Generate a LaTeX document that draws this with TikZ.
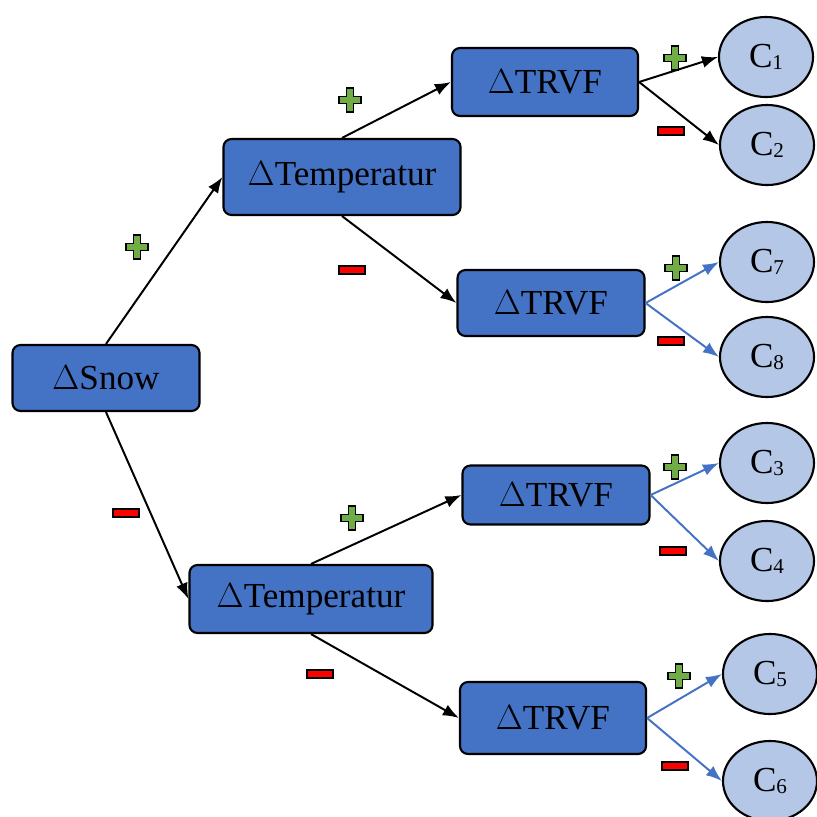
\documentclass[tikz,border=0pt]{standalone}
\usepackage{fontspec}
\setmainfont{Liberation Serif}
\usetikzlibrary{arrows.meta,shapes.geometric}
\definecolor{boxblue}{HTML}{4472C4}
\definecolor{lightblue}{HTML}{B4C7E7}
\definecolor{plusgreen}{HTML}{70AD47}
\definecolor{minusred}{HTML}{FF0000}

\begin{document}
\begin{tikzpicture}
  [ x=0.025cm, y=-0.025cm,
    my box/.style={draw, line width=1.5pt, fill=boxblue, rounded corners=0.2cm,
      font=\fontsize{25}{28}\selectfont, inner sep=0pt},
    my leaf/.style={ellipse, draw, line width=1.5pt, fill=lightblue,
      minimum width=2.35cm, minimum height=2.0cm, inner sep=0pt,
      font=\fontsize{25}{28}\selectfont},
    my arrow/.style={-{Latex[length=4mm,width=3mm]}, line width=1.4pt},
    my blue arrow/.style={my arrow, boxblue},
    my plus/.pic={\draw[fill=plusgreen, line width=1.2pt]
      (-3.5,-12) -- (3.5,-12) -- (3.5,-3.5) -- (11,-3.5) -- (11,3.5)
      -- (3.5,3.5) -- (3.5,12) -- (-3.5,12) -- (-3.5,3.5) -- (-11,3.5)
      -- (-11,-3.5) -- (-3.5,-3.5) -- cycle;},
    my minus/.pic={\draw[fill=minusred, line width=1.2pt]
      (-13,-4) rectangle (13,4);}, ]

  \useasboundingbox (0,0) rectangle (817,817);

  \node[my box, minimum width=4.675cm, minimum height=1.65cm] (snow) at (106,378) {$\Delta$Snow};
  \node[my box, minimum width=5.925cm, minimum height=1.9cm] (tempA) at (342,177) {$\Delta$Temperatur};
  \node[my box, minimum width=6.075cm, minimum height=1.7cm] (tempB) at (311,599) {$\Delta$Temperatur};

  \node[my box, minimum width=4.65cm, minimum height=1.7cm] (trvfA) at (545,82) {$\Delta$TRVF};
  \node[my box, minimum width=4.675cm, minimum height=1.65cm] (trvfB) at (551,303) {$\Delta$TRVF};
  \node[my box, minimum width=4.675cm, minimum height=1.475cm] (trvfC) at (556,495) {$\Delta$TRVF};
  \node[my box, minimum width=4.65cm, minimum height=1.8cm] (trvfD) at (553,718) {$\Delta$TRVF};

  \node[my leaf] (c1) at (766,57) {C\raisebox{-1pt}{\fontsize{15}{15}\selectfont 1}};
  \node[my leaf] (c2) at (767,145) {C\raisebox{-1pt}{\fontsize{15}{15}\selectfont 2}};
  \node[my leaf] (c7) at (767,262) {C\raisebox{-1pt}{\fontsize{15}{15}\selectfont 7}};
  \node[my leaf] (c8) at (767,357) {C\raisebox{-1pt}{\fontsize{15}{15}\selectfont 8}};
  \node[my leaf] (c3) at (767,463) {C\raisebox{-1pt}{\fontsize{15}{15}\selectfont 3}};
  \node[my leaf] (c4) at (767,561) {C\raisebox{-1pt}{\fontsize{15}{15}\selectfont 4}};
  \node[my leaf] (c5) at (770,674) {C\raisebox{-1pt}{\fontsize{15}{15}\selectfont 5}};
  \node[my leaf] (c6) at (770,781) {C\raisebox{-1pt}{\fontsize{15}{15}\selectfont 6}};

  \draw[my arrow] (snow.north) to (tempA.west);
  \draw[my arrow] (snow.south) to (tempB.west);
  \draw[my arrow] (tempA.north) to (trvfA.west);
  \draw[my arrow] (tempA.south) to (trvfB.west);
  \draw[my arrow] (tempB.north) to (trvfC.west);
  \draw[my arrow] (tempB.south) to (trvfD.west);

  \draw[my arrow] (trvfA.east) to (c1.west);
  \draw[my arrow] (trvfA.east) to (c2.west);
  \draw[my blue arrow] (trvfB.east) to (c7.west);
  \draw[my blue arrow] (trvfB.east) to (c8.west);
  \draw[my blue arrow] (trvfC.east) to (c3.west);
  \draw[my blue arrow] (trvfC.east) to (c4.west);
  \draw[my blue arrow] (trvfD.east) to (c5.west);
  \draw[my blue arrow] (trvfD.east) to (c6.west);

  \pic at (137,247) {my plus};
  \pic at (350,100) {my plus};
  \pic at (352,518) {my plus};
  \pic at (675,58) {my plus};
  \pic at (676,268) {my plus};
  \pic at (675,467) {my plus};
  \pic at (679,676) {my plus};

  \pic at (126,513) {my minus};
  \pic at (352,270) {my minus};
  \pic at (320,674) {my minus};
  \pic at (671,131) {my minus};
  \pic at (671,341) {my minus};
  \pic at (673,551) {my minus};
  \pic at (675,766) {my minus};

\end{tikzpicture}
\end{document}
